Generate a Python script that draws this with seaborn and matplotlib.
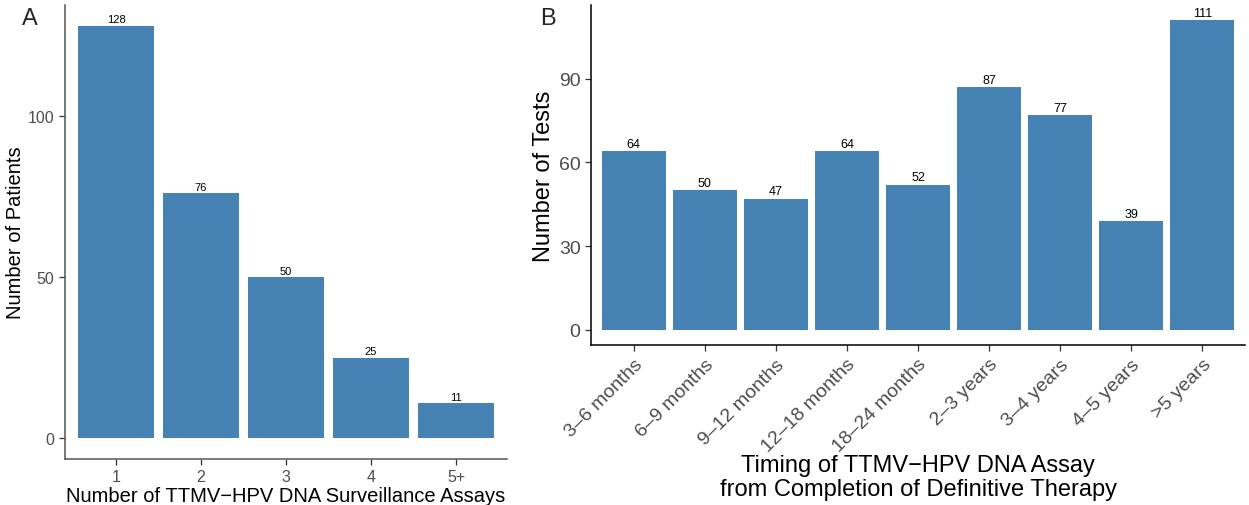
import matplotlib
matplotlib.use("Agg")
import matplotlib.pyplot as plt
import seaborn as sns
import pandas as pd

assay_counts = ["1", "2", "3", "4", "5+"]
patients = [128, 76, 50, 25, 11]

timing_labels = ["3–6 months", "6–9 months", "9–12 months", "12–18 months",
                 "18–24 months", "2–3 years", "3–4 years", "4–5 years", ">5 years"]
tests = [64, 50, 47, 64, 52, 87, 77, 39, 111]

sns.set_theme(style="ticks")
plt.rcParams['font.family'] = ['Liberation Sans', 'DejaVu Sans']

BAR = "#4682B4"
fig = plt.figure(figsize=(12.49, 5.06), dpi=100)
axA = fig.add_axes([65/1249, 1-460/506, (507-65)/1249, (460-6)/506])
axB = fig.add_axes([591/1249, 1-346/506, (1245-591)/1249, (346-6)/506])

dfA = pd.DataFrame({"x": assay_counts, "y": patients})
dfB = pd.DataFrame({"x": timing_labels, "y": tests})

sns.barplot(data=dfA, x="x", y="y", color=BAR, saturation=1, width=0.9, ax=axA,
            linewidth=0, edgecolor="none")
sns.barplot(data=dfB, x="x", y="y", color=BAR, saturation=1, width=0.9, ax=axB,
            linewidth=0, edgecolor="none")

def style(ax, vals, n, spine_col, lab_fs):
    mx = max(vals)
    ax.set_ylim(-0.05*mx, 1.05*mx)
    ax.set_xlim(-0.6, n-0.4)
    for s in ["top", "right"]:
        ax.spines[s].set_visible(False)
    for s in ["left", "bottom"]:
        ax.spines[s].set_color(spine_col)
        ax.spines[s].set_linewidth(1.1)
    ax.tick_params(axis="both", colors="#333333", length=4, width=0.9,
                   labelcolor="#4D4D4D")
    for c in ax.containers:
        ax.bar_label(c, labels=[str(v) for v in vals], padding=1,
                     fontsize=lab_fs, color="black")

style(axA, patients, len(patients), "#555555", 8)
style(axB, tests, len(tests), "black", 9)

axA.set_yticks([0, 50, 100])
axA.tick_params(axis="both", labelsize=11.5)
axA.set_xlabel("Number of TTMV−HPV DNA Surveillance Assays", fontsize=14.5,
               color="black", labelpad=1)
axA.set_ylabel("Number of Patients", fontsize=14.5, color="black", labelpad=2)

axB.set_yticks([0, 30, 60, 90])
axB.tick_params(axis="y", labelsize=14)
axB.set_xticks(range(len(timing_labels)))
axB.set_xticklabels(timing_labels, rotation=45, ha="right", rotation_mode="anchor",
                    fontsize=14)
axB.set_xlabel("Timing of TTMV−HPV DNA Assay\nfrom Completion of Definitive Therapy",
               fontsize=17, color="black", labelpad=-1, linespacing=1.12)
axB.set_ylabel("Number of Tests", fontsize=17, color="black", labelpad=3)

fig.text(30/1249, 1-19/506, "A", fontsize=17, ha="center", va="center")
fig.text(548/1249, 1-19/506, "B", fontsize=17, ha="center", va="center")

fig.savefig("out.png", dpi=100)
